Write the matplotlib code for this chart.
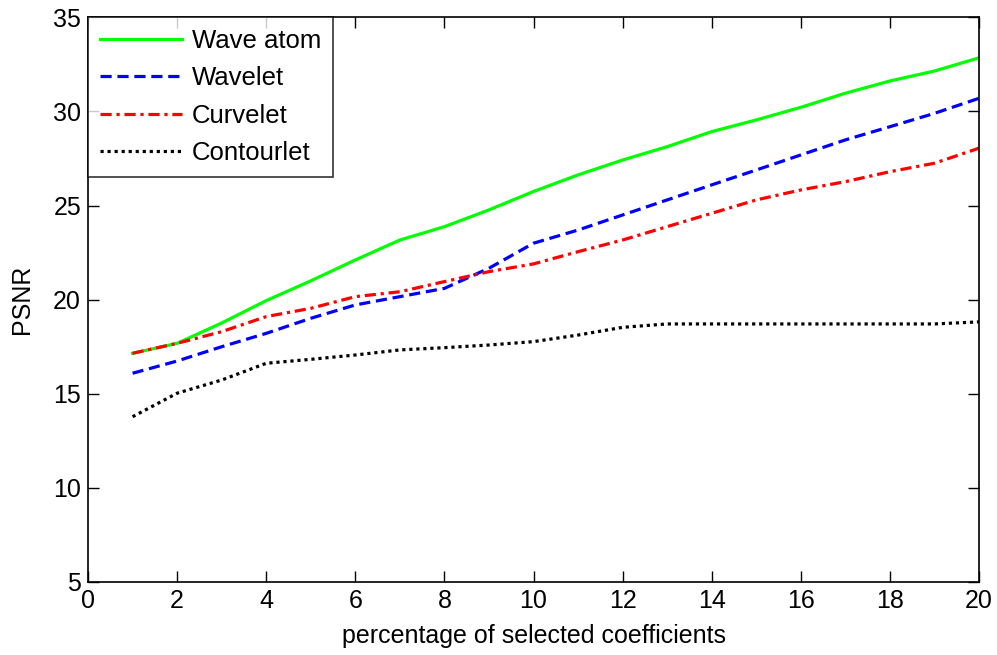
import matplotlib
matplotlib.use("Agg")
import matplotlib.pyplot as plt

x = list(range(1, 21))
wave_atom = [17.15, 17.68, 18.76, 19.95, 21.0, 22.11, 23.17, 23.88, 24.77, 25.75,
             26.63, 27.42, 28.13, 28.93, 29.55, 30.22, 30.97, 31.62, 32.15, 32.85]
wavelet = [16.09, 16.74, 17.5, 18.21, 19.01, 19.72, 20.16, 20.6, 21.67, 23.0,
           23.7, 24.5, 25.3, 26.1, 26.89, 27.69, 28.49, 29.19, 29.9, 30.7]
curvelet = [17.15, 17.68, 18.3, 19.1, 19.54, 20.16, 20.42, 20.96, 21.49, 21.9,
            22.55, 23.17, 23.88, 24.59, 25.3, 25.83, 26.27, 26.8, 27.25, 28.05]
contourlet = [13.78, 15.03, 15.73, 16.62, 16.83, 17.06, 17.33, 17.45, 17.59, 17.77,
              18.12, 18.53, 18.71, 18.71, 18.71, 18.71, 18.71, 18.71, 18.71, 18.82]

xticks = list(range(0, 21, 2))
yticks = list(range(5, 36, 5))

plt.rcParams['font.family'] = ['Liberation Sans', 'DejaVu Sans']
fig = plt.figure(figsize=(9.97, 6.55), dpi=100)
ax = fig.add_axes([0.0883, 0.1115, 0.8937, 0.862])

lw = 2.3
ax.plot(x, wave_atom, color='#00ff00', linestyle='-', linewidth=lw, label='Wave atom')
ax.plot(x, wavelet, color='#0000ff', linestyle=(0, (3.5, 1.8)), linewidth=lw, label='Wavelet')
ax.plot(x, curvelet, color='#ff0000', linestyle=(0, (3.5, 1.5, 1, 1.5)), linewidth=lw, label='Curvelet')
ax.plot(x, contourlet, color='black', linestyle=(0, (1, 1.2)), linewidth=lw, label='Contourlet')

ax.set_xlim(0, 20)
ax.set_ylim(5, 35)
ax.set_xticks(xticks)
ax.set_yticks(yticks)
ax.tick_params(direction='in', top=True, right=True, length=8, width=1, labelsize=18, pad=5)
for s in ax.spines.values():
    s.set_linewidth(1.2)

ax.set_xlabel('percentage of selected coefficients', fontsize=18, labelpad=8)
ax.set_ylabel('PSNR', fontsize=18, labelpad=14)

leg = ax.legend(loc='upper left', fontsize=18.5, frameon=True, fancybox=False,
                edgecolor='black', borderaxespad=0, handlelength=3.2,
                labelspacing=0.52, borderpad=0.45, handletextpad=0.4)
leg.get_frame().set_linewidth(1.2)

fig.savefig('out.png', dpi=100)
